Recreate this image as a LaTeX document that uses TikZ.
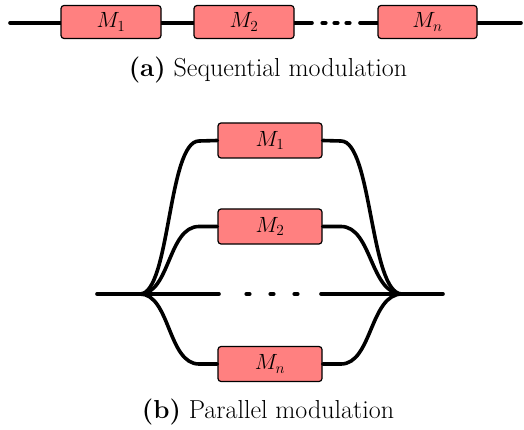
\RequirePackage{fix-cm}
\documentclass[tikz,border=0pt]{standalone}
\usepackage{tikz}
\definecolor{boxred}{RGB}{255,128,128}
\tikzset{
  modbox/.style={draw=black, line width=1.2pt, fill=boxred, rounded corners=3pt,
    minimum width=100pt, minimum height=33pt, inner sep=0pt,
    font=\fontsize{22}{26}\selectfont},
  wire/.style={line width=3.6pt, line cap=round},
  dotline/.style={line width=4.2pt, line cap=round},
  capt/.style={font=\fontsize{26}{31}\selectfont, inner sep=0pt}
}
\begin{document}
\begin{tikzpicture}[x=1pt, y=-1pt]
\useasboundingbox (0,0) rectangle (524,430);
% (a) sequential
\coordinate (s0) at (10,23);
\coordinate (s9) at (521,23);
\coordinate (d1a) at (312,23);
\coordinate (d1b) at (360,23);
\draw[wire] (s0) -- (111,23);
\draw[wire] (111,23) -- (244,23);
\draw[wire] (244,23) -- (d1a);
\draw[wire] (d1b) -- (427,23);
\draw[wire] (427,23) -- (s9);
\foreach \x in {324,336,348} \draw[dotline] (\x-1.5,23) -- (\x+1.5,23);
\node[modbox] (a1) at (111,22) {$M_1$};
\node[modbox] (a2) at (244,22) {$M_2$};
\node[modbox, minimum width=99pt] (an) at (427.5,22) {$M_n$};
\node[capt] (ca) at (268,70) {\textbf{(a)} Sequential modulation};
% (b) parallel
\coordinate (L) at (140,294);
\coordinate (R) at (402,294);
\coordinate (l0) at (97,294);
\coordinate (r0) at (443,294);
\coordinate (m1) at (219,294);
\coordinate (m2) at (321,294);
\node[modbox, minimum width=104pt, minimum height=35pt] (b1) at (270,140.5) {$M_1$};
\node[modbox, minimum width=104pt, minimum height=35pt] (b2) at (270,226.5) {$M_2$};
\node[modbox, minimum width=104pt, minimum height=35pt] (bn) at (270,364) {$M_n$};
\draw[wire] (l0) -- (L) -- (m1);
\draw[wire] (m2) -- (R) -- (r0);
\foreach \x in {248,272,296} \draw[dotline] (\x-1.5,294) -- (\x+1.5,294);
\draw[wire] (L) .. controls (170,294) and (168,141) .. (199,141) -- (b1.west);
\draw[wire] (b1.east) -- (341,141) .. controls (372,141) and (370,294) .. (R);
\draw[wire] (L) .. controls (170,294) and (168,226.5) .. (199,226.5) -- (b2.west);
\draw[wire] (b2.east) -- (341,226.5) .. controls (372,226.5) and (370,294) .. (R);
\draw[wire] (L) .. controls (170,294) and (168,364) .. (199,364) -- (bn.west);
\draw[wire] (bn.east) -- (341,364) .. controls (372,364) and (370,294) .. (R);
\node[capt] (cb) at (268,412) {\textbf{(b)} Parallel modulation};
\end{tikzpicture}
\end{document}
